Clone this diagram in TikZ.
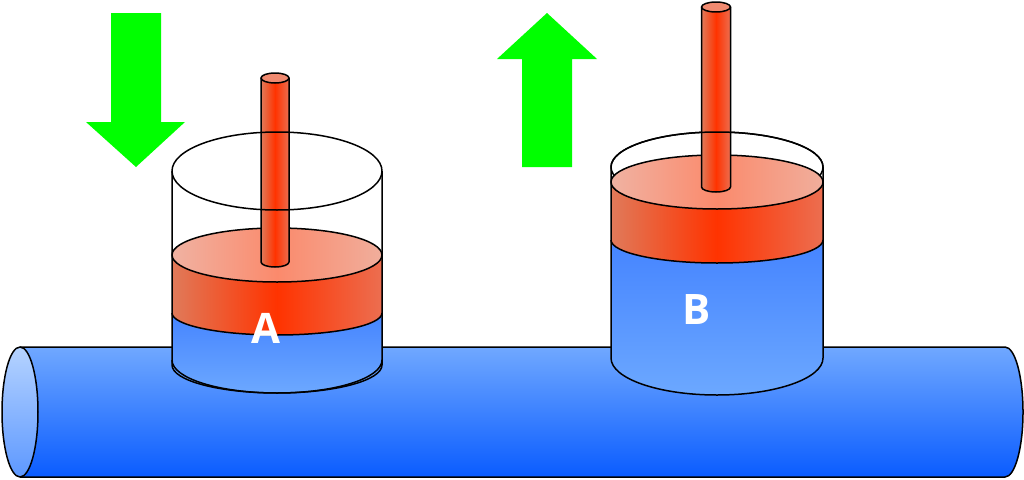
\documentclass[tikz,border=0pt]{standalone}
\usepackage{fontspec}
\newfontfamily\labfont{Open Sans}
\definecolor{pipetop}{HTML}{70A8FF}
\definecolor{pipebot}{HTML}{0A5CFF}
\definecolor{facetop}{HTML}{B5D3FF}
\definecolor{facebot}{HTML}{5D98FF}
\definecolor{liqtop}{HTML}{4584FF}
\definecolor{liqbot}{HTML}{6CA8FF}
\definecolor{rededge}{HTML}{E07A5A}
\definecolor{redmid}{HTML}{FF3300}
\definecolor{rededgeR}{HTML}{EC6E50}
\definecolor{toplft}{HTML}{F0B2A2}
\definecolor{topmid}{HTML}{FB8A6C}
\definecolor{toprgt}{HTML}{F0AE9C}
\definecolor{rodtop}{HTML}{F08A70}
\definecolor{arrowgreen}{HTML}{00FF00}
\tikzset{
  outl/.style={draw=black,line width=1.5pt,line join=round},
  pipefill/.style={top color=pipetop,bottom color=pipebot},
  facefill/.style={top color=facetop,bottom color=facebot},
  liqfill/.style={top color=liqtop,bottom color=liqbot},
  redside/.style={left color=rededge,right color=rededgeR,middle color=redmid},
  redtop/.style={left color=toplft,right color=toprgt,middle color=topmid},
  greenarrow/.style={fill=arrowgreen},
  lab/.style={text=white,font=\labfont\bfseries\fontsize{42}{42}\selectfont,inner sep=0pt}
}
\begin{document}
\begin{tikzpicture}[x=1pt,y=-1pt]
\useasboundingbox (0,0) rectangle (1024,479);
% ---------- pipe ----------
\path[pipefill] (20,347) -- (1005,347) arc[start angle=-90,end angle=90,x radius=18,y radius=65] -- (20,477) -- cycle;
\draw[outl] (20,347) -- (1005,347) arc[start angle=-90,end angle=90,x radius=18,y radius=65] -- (20,477);
\draw[outl,facefill] (20,412) ellipse[x radius=18,y radius=65];
% ---------- arrows ----------
\path[greenarrow] (111,13) -- (161,13) -- (161,122) -- (185,122) -- (136,167) -- (86,122) -- (111,122) -- cycle;
\path[greenarrow] (547,13) -- (597,59) -- (572,59) -- (572,167) -- (522,167) -- (522,59) -- (497,59) -- cycle;
% ---------- cylinder A ----------
\path[liqfill] (172,313) arc[start angle=180,end angle=0,x radius=105,y radius=22] -- (382,365) arc[start angle=0,end angle=180,x radius=105,y radius=28] -- cycle;
\path[redside] (172,255) arc[start angle=180,end angle=0,x radius=105,y radius=27] -- (382,313) arc[start angle=0,end angle=180,x radius=105,y radius=22] -- cycle;
\draw[outl] (172,313) arc[start angle=180,end angle=0,x radius=105,y radius=22];
\draw[outl,redtop] (277,255) ellipse[x radius=105,y radius=27];
\draw[outl,redside] (261,78) -- (261,262) arc[start angle=180,end angle=0,x radius=14,y radius=5] -- (289,78) -- cycle;
\draw[outl,fill=rodtop] (275,78) ellipse[x radius=14,y radius=5];
\draw[outl] (277,171) ellipse[x radius=105,y radius=39];
\draw[outl] (172,171) -- (172,360) arc[start angle=180,end angle=0,x radius=105,y radius=33] -- (382,171);
\draw[outl] (172,360) -- (172,365) arc[start angle=180,end angle=0,x radius=105,y radius=28] -- (382,360);
\node[lab] (labA) at (266,328) {A};
% ---------- cylinder B ----------
\draw[outl] (717,167) ellipse[x radius=106,y radius=35];
\path[liqfill] (611,240) arc[start angle=180,end angle=0,x radius=106,y radius=23] -- (823,358) arc[start angle=0,end angle=180,x radius=106,y radius=37] -- cycle;
\path[redside] (611,182) arc[start angle=180,end angle=0,x radius=106,y radius=27] -- (823,240) arc[start angle=0,end angle=180,x radius=106,y radius=23] -- cycle;
\draw[outl] (611,240) arc[start angle=180,end angle=0,x radius=106,y radius=23];
\draw[outl,redtop] (717,182) ellipse[x radius=106,y radius=27];
\draw[outl,redside] (701.5,7) -- (701.5,187) arc[start angle=180,end angle=0,x radius=14.5,y radius=5] -- (730.5,7) -- cycle;
\draw[outl,fill=rodtop] (716,7) ellipse[x radius=14.5,y radius=5];
\draw[outl] (611,167) arc[start angle=180,end angle=360,x radius=106,y radius=35];
\draw[outl] (611,167) -- (611,358) arc[start angle=180,end angle=0,x radius=106,y radius=37] -- (823,167);
\node[lab] (labB) at (697,310) {B};
\end{tikzpicture}
\end{document}
